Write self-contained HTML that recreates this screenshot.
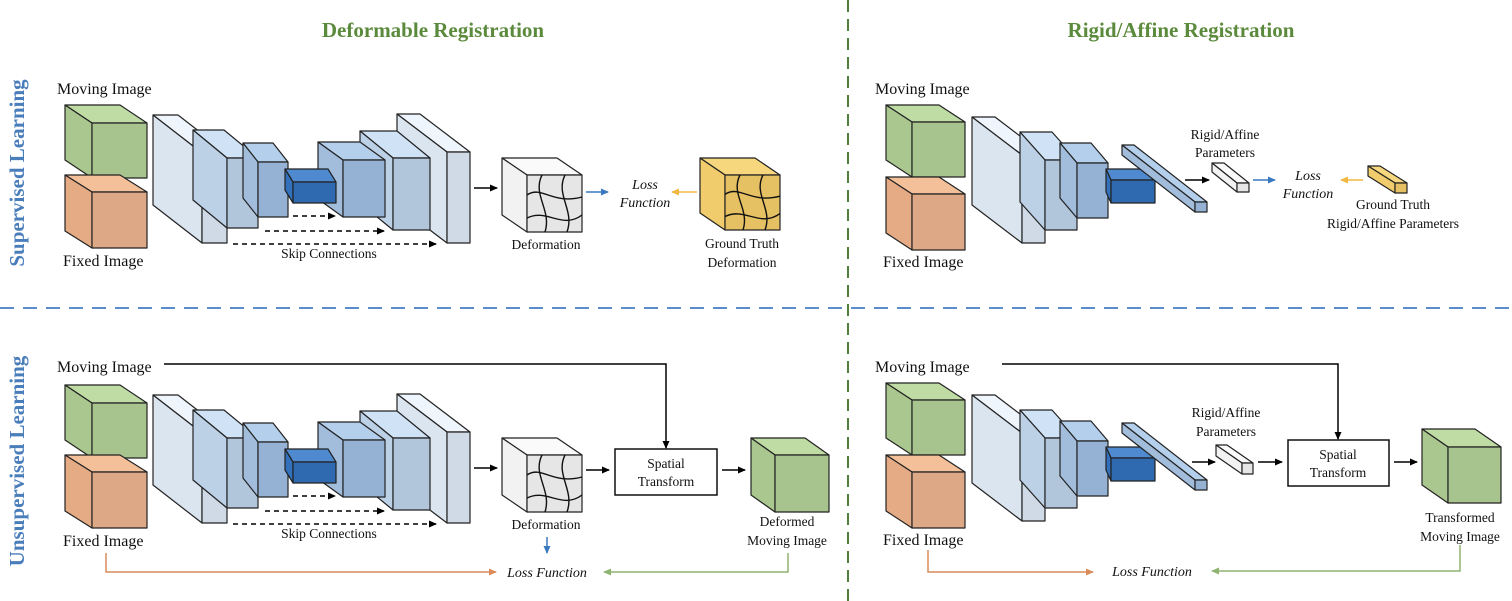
<!DOCTYPE html>
<html><head><meta charset="utf-8"><style>
html,body{margin:0;padding:0;background:#fff;}
svg{display:block;}
text{font-family:"Liberation Serif",serif;fill:#111;}
.t{font-size:16px;}
.s{font-size:13.5px;}
.i{font-style:italic;font-size:14px;}
.h{font-size:21px;font-weight:bold;fill:#5b8a3c;}
.v{font-size:21px;font-weight:bold;fill:#4a7ebb;}
</style></head><body>
<svg id="S" width="1512" height="601" viewBox="0 0 1512 601" xmlns="http://www.w3.org/2000/svg">
<defs>
<marker id="ak" markerWidth="8" markerHeight="8" refX="7" refY="4" orient="auto" markerUnits="userSpaceOnUse"><path d="M0,0.5 L8,4 L0,7.5z" fill="#000"/></marker>
<marker id="ab" markerWidth="8" markerHeight="8" refX="7" refY="4" orient="auto" markerUnits="userSpaceOnUse"><path d="M0,0.5 L8,4 L0,7.5z" fill="#3a78c0"/></marker>
<marker id="ay" markerWidth="8" markerHeight="8" refX="7" refY="4" orient="auto" markerUnits="userSpaceOnUse"><path d="M0,0.5 L8,4 L0,7.5z" fill="#f0b840"/></marker>
<marker id="ao" markerWidth="8" markerHeight="8" refX="7" refY="4" orient="auto" markerUnits="userSpaceOnUse"><path d="M0,0.5 L8,4 L0,7.5z" fill="#d98b5a"/></marker>
<marker id="ag" markerWidth="8" markerHeight="8" refX="7" refY="4" orient="auto" markerUnits="userSpaceOnUse"><path d="M0,0.5 L8,4 L0,7.5z" fill="#8fb370"/></marker>
</defs>
<g id="G"></g>
<line x1="848" y1="0" x2="848" y2="601" stroke="#4f7f3a" stroke-width="2" stroke-dasharray="12,7"/>
<line x1="0" y1="308" x2="1512" y2="308" stroke="#5b8ccc" stroke-width="2" stroke-dasharray="14,9"/>
<text class="h" x="433" y="37" text-anchor="middle">Deformable Registration</text>
<text class="h" x="1181" y="37" text-anchor="middle">Rigid/Affine Registration</text>
<text class="v" transform="translate(24,173) rotate(-90)" text-anchor="middle">Supervised Learning</text>
<text class="v" transform="translate(24,461) rotate(-90)" text-anchor="middle">Unsupervised Learning</text>

<text class="t" x="57" y="94">Moving Image</text>
<text class="t" x="63" y="266">Fixed Image</text>
<text class="s" x="329" y="258" text-anchor="middle">Skip Connections</text>
<text class="s" x="546" y="249" text-anchor="middle">Deformation</text>
<text class="i" x="645" y="189" text-anchor="middle">Loss</text>
<text class="i" x="645" y="207" text-anchor="middle">Function</text>
<text class="s" x="742" y="248" text-anchor="middle">Ground Truth</text>
<text class="s" x="742" y="267" text-anchor="middle">Deformation</text>

<text class="t" x="57" y="372">Moving Image</text>
<text class="t" x="63" y="546">Fixed Image</text>
<text class="s" x="329" y="538" text-anchor="middle">Skip Connections</text>
<text class="s" x="546" y="529" text-anchor="middle">Deformation</text>
<text class="s" x="666" y="468" text-anchor="middle">Spatial</text>
<text class="s" x="666" y="486" text-anchor="middle">Transform</text>
<text class="s" x="787" y="526" text-anchor="middle">Deformed</text>
<text class="s" x="787" y="545" text-anchor="middle">Moving Image</text>
<text class="i" x="547" y="577" text-anchor="middle">Loss Function</text>

<text class="t" x="875" y="94">Moving Image</text>
<text class="t" x="883" y="267">Fixed Image</text>
<text class="s" x="1225" y="139" text-anchor="middle">Rigid/Affine</text>
<text class="s" x="1225" y="157" text-anchor="middle">Parameters</text>
<text class="i" x="1308" y="180" text-anchor="middle">Loss</text>
<text class="i" x="1308" y="198" text-anchor="middle">Function</text>
<text class="s" x="1393" y="209" text-anchor="middle">Ground Truth</text>
<text class="s" x="1393" y="228" text-anchor="middle">Rigid/Affine Parameters</text>

<text class="t" x="875" y="372">Moving Image</text>
<text class="t" x="883" y="545">Fixed Image</text>
<text class="s" x="1226" y="417" text-anchor="middle">Rigid/Affine</text>
<text class="s" x="1226" y="436" text-anchor="middle">Parameters</text>
<text class="s" x="1338" y="459" text-anchor="middle">Spatial</text>
<text class="s" x="1338" y="477" text-anchor="middle">Transform</text>
<text class="s" x="1460" y="522" text-anchor="middle">Transformed</text>
<text class="s" x="1460" y="541" text-anchor="middle">Moving Image</text>
<text class="i" x="1152" y="576" text-anchor="middle">Loss Function</text>
</svg>
<script>
var G=document.getElementById('G'),NS='http://www.w3.org/2000/svg';
function el(t,a){var e=document.createElementNS(NS,t);for(var k in a)e.setAttribute(k,a[k]);G.appendChild(e);return e;}
function P(pts,f){el('polygon',{points:pts.map(function(p){return p[0]+','+p[1]}).join(' '),fill:f,stroke:'#222','stroke-width':1.2,'stroke-linejoin':'round'});}
function box(b,ys,c){var x=b[0],y=b[1]+ys,w=b[2],h=b[3],dx=b[4],dy=b[5];
 P([[x,y],[x+w,y],[x+w+dx,y+dy],[x+dx,y+dy]],c[0]);
 P([[x,y],[x+dx,y+dy],[x+dx,y+h+dy],[x,y+h]],c[1]);
 P([[x,y],[x+w,y],[x+w,y+h],[x,y+h]],c[2]);}
function L(x1,y1,x2,y2,col,m,dash){var a={x1:x1,y1:y1,x2:x2,y2:y2,stroke:col,'stroke-width':1.5};if(m)a['marker-end']='url(#'+m+')';if(dash)a['stroke-dasharray']=dash;el('line',a);}
function PL(pts,col,m){var a={points:pts.map(function(p){return p.join(',')}).join(' '),fill:'none',stroke:col,'stroke-width':1.5};if(m)a['marker-end']='url(#'+m+')';el('polyline',a);}
var GR=['#bfdca4','#a9c78f','#a8c48e'],OR=['#f4c09a','#e5ab85','#dca886'];
var C1=['#eef5fc','#dbe5f0','#cfdae6'],C2=['#cfe2f6','#bcd0e6','#b1c5db'],C3=['#b4cfec','#a2bcdc','#95b2d4'],C4=['#4f8ad0','#3270bb','#2f69b0'];
var WH=['#fafafa','#f2f2f2','#e6e6e6'],YE=['#f6d77e','#f0cc6c','#e6c163'];
function waves(x,y,w,h){var s=w/55;function q(d){el('path',{d:d,fill:'none',stroke:'#111','stroke-width':1.4});}
 var p=function(a,b){return (x+a*s).toFixed(1)+','+(y+b*h/57).toFixed(1)};
 q('M'+p(0,20)+' C'+p(15,10)+' '+p(25,30)+' '+p(55,22));
 q('M'+p(0,43)+' C'+p(20,33)+' '+p(35,55)+' '+p(55,40));
 q('M'+p(15,0)+' C'+p(5,20)+' '+p(25,35)+' '+p(18,57));
 q('M'+p(38,0)+' C'+p(28,20)+' '+p(48,35)+' '+p(40,57));}
function leftNet(ys){
 box([92,123,55,55,-27,-18],ys,GR);box([92,192,55,56,-27,-17],ys,OR);
 box([447,152,23,91,-50,-38],ys,C1);box([393,158,37,72,-33,-27],ys,C2);box([343,160,42,57,-25,-18],ys,C3);
 box([202,153,25,90,-49,-38],ys,C1);box([227,158,31,70,-34,-28],ys,C2);box([258,162,30,55,-15,-19],ys,C3);box([293,182,43,21,-8,-13],ys,C4);
 L(293,216+ys,335,216+ys,'#000','ak','5,4');L(265,231+ys,384,231+ys,'#000','ak','5,4');L(233,244+ys,436,244+ys,'#000','ak','5,4');
 L(474,188+ys,497,188+ys,'#000','ak');
 box([527,175,55,57,-25,-17],ys,WH);waves(527,175+ys,55,57);}
function rightNet(ys){
 box([912,122,53,55,-26,-17],ys,GR);box([912,194,53,56,-26,-17],ys,OR);
 box([1022,155,23,88,-50,-38],ys,C1);box([1045,160,32,70,-25,-28],ys,C2);box([1077,163,31,55,-17,-20],ys,C3);box([1111,180,44,23,-5,-11],ys,C4);
 box([1195,202,12,10,-73,-57],ys,C3);}
leftNet(0);leftNet(280);rightNet(0);rightNet(278);
// top-right small box + arrows
box([1237,183,12,9,-25,-20],0,WH);L(1185,180,1209,180,'#000','ak');
L(1253,180,1275,180,'#3a78c0','ab');L(1363,180,1341,180,'#f0b840','ay');
box([1395,183,12,10,-27,-17],0,YE);
// top-left extras
L(586,192,608,192,'#3a78c0','ab');L(697,192,672,192,'#f0b840','ay');
box([725,175,55,55,-25,-17],0,YE);waves(725,175,55,55);
// bottom-left extras
PL([[164,364],[666,364],[666,448]],'#000','ak');
el('rect',{x:615,y:449,width:102,height:46,fill:'#fff',stroke:'#111','stroke-width':1.5});
L(586,470,609,470,'#000','ak');L(722,470,745,470,'#000','ak');
box([775,455,54,57,-24,-17],0,GR);
L(547,537,547,553,'#3a78c0','ab');
PL([[106,553],[106,572],[496,572]],'#d98b5a','ao');
PL([[788,553],[788,572],[604,572]],'#8fb370','ag');
// bottom-right extras
box([1242,463,11,11,-26,-18],0,WH);
L(1192,462,1215,462,'#000','ak');
PL([[1002,364],[1338,364],[1338,439]],'#000','ak');
el('rect',{x:1288,y:440,width:101,height:46,fill:'#fff',stroke:'#111','stroke-width':1.5});
L(1258,462,1282,462,'#000','ak');L(1394,462,1417,462,'#000','ak');
box([1448,447,53,56,-26,-18],0,GR);
PL([[928,550],[928,572],[1093,572]],'#d98b5a','ao');
PL([[1460,545],[1460,571],[1212,571]],'#8fb370','ag');
</script>
</body></html>
